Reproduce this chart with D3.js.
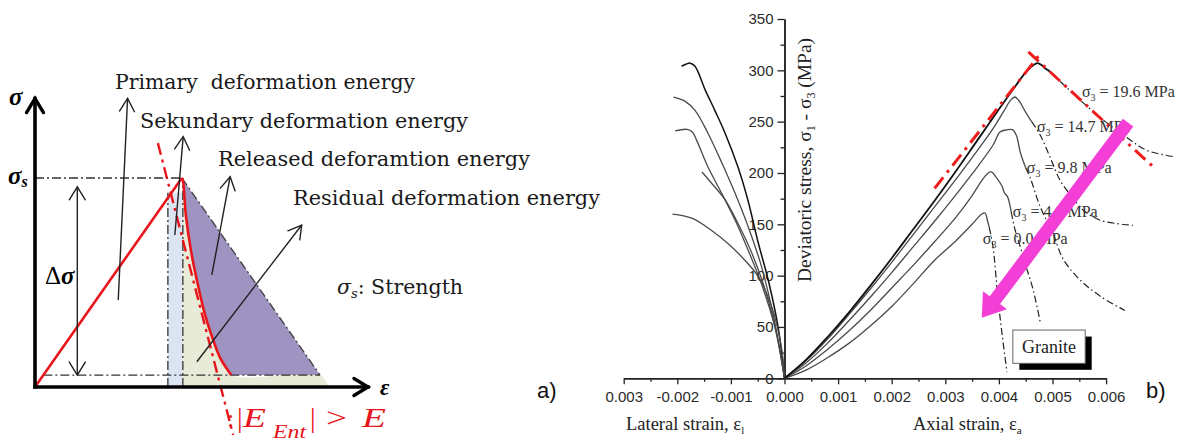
<!DOCTYPE html>
<html><head><meta charset="utf-8">
<script src="https://cdn.jsdelivr.net/npm/d3@7"></script>
<style>
html,body{margin:0;padding:0;background:#fff;}
svg{display:block;}
text{white-space:pre;}
</style></head><body>
<svg id="fig" width="1179" height="441"></svg>
<script>
// ================= Panel (b) data: strain in 1e-3, deviatoric stress in MPa =================
const xTickValues = [-3,-2,-1,0,1,2,3,4,5,6];
const xTickLabels = ["0.003","-0.002","-0.001","0.000","0.001","0.002","0.003","0.004","0.005","0.006"];
const xMinorValues = [-2.5,-1.5,-0.5,0.5,1.5,2.5,3.5,4.5,5.5];
const yTickValues = [0,50,100,150,200,250,300,350];
const yTickLabels = ["0","50","100","150","200","250","300","350"];
const yMinorValues = [25,75,125,175,225,275,325];

const confiningLabels = ["19.6","14.7","9.8","4.9","0.0"];

// axial branch, pre-peak and early post-peak (solid)
const axial196 = [[0,0],[0.4,18],[0.8,40],[1.2,64],[1.6,90],[2.0,117],[2.4,145],[2.8,173],[3.2,202],[3.6,232],[4.0,262],[4.3,284],[4.5,298],[4.64,305],[4.72,307],[4.8,305],[4.86,302],[4.95,299]];
const axial147 = [[0,0],[0.4,17],[0.8,38],[1.2,62],[1.6,87],[2.0,113],[2.4,140],[2.8,167],[3.2,194],[3.6,222],[3.9,244],[4.1,261],[4.22,271],[4.3,274],[4.38,270],[4.5,259],[4.61,250]];
const axial98  = [[0,0],[0.4,15],[0.8,34],[1.2,56],[1.6,79],[2.0,103],[2.4,128],[2.8,153],[3.2,179],[3.6,206],[3.9,228],[4.02,240],[4.15,242],[4.26,242],[4.33,236],[4.4,220],[4.5,205]];
const axial49  = [[0,0],[0.4,12],[0.8,28],[1.2,46],[1.6,66],[2.0,88],[2.4,110],[2.8,133],[3.2,157],[3.5,178],[3.7,194],[3.8,200],[3.86,201],[3.96,195],[4.06,187],[4.1,181],[4.16,177],[4.2,170],[4.23,162]];
const axial00  = [[0,0],[0.4,8],[0.8,20],[1.2,34],[1.6,51],[2.0,70],[2.4,92],[2.8,115],[3.2,134],[3.5,150],[3.68,160],[3.74,161],[3.79,153],[3.82,147]];

// axial branch, post-peak (dash-dot)
const soft196 = [[4.95,299],[5.35,279],[5.89,254],[6.4,234],[6.76,222],[7.25,216]];
const soft147 = [[4.61,250],[4.77,237],[4.95,216],[5.14,193],[5.33,179],[5.57,164],[5.89,154],[6.5,149]];
const soft98  = [[4.5,205],[4.58,196],[4.77,167],[5.01,141],[5.2,116],[5.51,96],[5.89,80],[6.35,66]];
const soft49  = [[4.23,162],[4.3,145],[4.4,128],[4.5,110],[4.64,86],[4.77,55]];
const soft00  = [[3.82,147],[3.89,128],[3.98,79],[4.05,47],[4.15,6]];

// lateral branch
const lateral196 = [[-1.92,304],[-1.84,306],[-1.76,307],[-1.67,304],[-1.48,281],[-1.30,261],[-1.11,239],[-0.87,206],[-0.68,173],[-0.50,134],[-0.30,95],[-0.12,50],[0,0]];
const lateral147 = [[-2.07,274],[-1.86,270],[-1.67,261],[-1.43,239],[-1.17,210],[-0.92,180],[-0.68,148],[-0.43,109],[-0.18,54],[0,0]];
const lateral98  = [[-2.04,241],[-1.82,242.5],[-1.72,240],[-1.64,232],[-1.43,206],[-1.17,180],[-0.92,154],[-0.68,125],[-0.43,92],[-0.18,50],[0,0]];
const lateral49  = [[-1.54,201],[-1.36,190],[-1.11,174],[-0.87,151],[-0.61,122],[-0.36,86],[-0.12,37],[0,0]];
const lateral00  = [[-2.09,160],[-1.73,156],[-1.36,144],[-1.05,131],[-0.74,115],[-0.49,99],[-0.24,70],[-0.05,28],[0,0]];

// tangent lines at the 19.6 MPa peak
const tangentRise = [[2.8,185],[4.8,318]];
const tangentFall = [[4.55,318],[6.9,205]];

// annotation anchors (data space)
const labelAnchors = [[5.55,274],[4.71,240],[4.52,200],[4.26,157],[3.70,131]];
const trendArrow = [[6.41,249],[3.68,59]];
const graniteBox = [[4.26,47],[5.61,14.6]];

// ================= Panel (a) schematic data (ε and σ in relative units, σs = 100) =================
const schemLoad = [[0,0],[44.1,100]];
const schemSoftening = [[44.4,99],[45.3,82.3],[46.8,65.6],[48.6,51.2],[51.1,34.4],[53.5,22.5],[55.6,13.9],[58.9,5.7]];
const schemRelease = [[44.1,100],[85.6,5.7]];
const schemStrengthLevel = [[0,100],[44.1,100]];
const schemResidualLevel = [[2.5,5.7],[85.6,5.7]];
const schemStripEdge = [[39.9,0],[39.9,93]];
const schemPeakEdge = [[44.4,0],[44.4,100]];
const schemBrittle = [[36.9,116.7],[59.5,-23]];
const schemAxisX = [[0,0],[100,0]];
const schemAxisY = [[0,0],[0,138]];
const arrowDelta = [[12.7,5.7],[12.7,95.8]];
const arrowPrimary = [[25.0,41.6],[27.8,138.1]];
const arrowSecondary = [[42.0,72.7],[44.5,119.8]];
const arrowReleased = [[53.1,53.6],[58.6,100.6]];
const arrowResidual = [[48.6,12.1],[80.1,77.5]];

const energyLabels = ["Primary  deformation energy","Sekundary deformation energy","Released deforamtion energy","Residual deformation energy"];

// ======================================================================
const svg = d3.select("#fig");

function chevron(g, p0, p1, L, W, color, sw) {
  const dx = p1[0]-p0[0], dy = p1[1]-p0[1], len = Math.hypot(dx,dy);
  const ux = dx/len, uy = dy/len;
  const bx = p1[0]-ux*L, by = p1[1]-uy*L;
  g.append("path")
    .attr("d", `M${bx-uy*W},${by+ux*W}L${p1[0]},${p1[1]}L${bx+uy*W},${by-ux*W}`)
    .attr("fill","none").attr("stroke",color).attr("stroke-width",sw)
    .attr("stroke-linejoin","miter").attr("stroke-linecap","round");
}

// ---------------- Panel (a) ----------------
const xA = d3.scaleLinear().domain([0,100]).range([35,368]);
const yA = d3.scaleLinear().domain([0,100]).range([387,178]);
const PA = d => [xA(d[0]), yA(d[1])];
const lineA = d3.line().x(d=>xA(d[0])).y(d=>yA(d[1]));
const smoothA = d3.line().x(d=>xA(d[0])).y(d=>yA(d[1])).curve(d3.curveCatmullRom.alpha(0.5));
const gA = svg.append("g");

// foot of the release line on the strain axis
const relSlope = (schemRelease[1][0]-schemRelease[0][0])/(schemRelease[1][1]-schemRelease[0][1]);
const relFoot = [schemRelease[1][0] - relSlope*schemRelease[1][1], 0];

// light blue strip (secondary energy)
gA.append("path")
  .attr("d", lineA([[schemStripEdge[0][0],0],[schemStripEdge[1][0],schemStripEdge[1][1]],[schemPeakEdge[1][0],schemStripEdge[1][1]],[schemPeakEdge[0][0],0]]) + "Z")
  .attr("fill","#dbe4f1");

// residual energy (beige)
const beige = [[schemPeakEdge[0][0],0],[schemPeakEdge[0][0],schemSoftening[0][1]]]
  .concat(schemSoftening).concat([schemResidualLevel[1], relFoot]);
gA.append("path").attr("d", smoothA(beige) + "Z").attr("fill","#e8ebd7");

// released energy (purple)
gA.append("path").attr("d", lineA([schemRelease[0], schemRelease[1], schemSoftening[schemSoftening.length-1]]) +
  smoothA(schemSoftening.slice().reverse()).replace(/^M/,"L") + "Z")
  .attr("fill","#9f93c2");

// dash-dot guide lines
const ddA = "9,3,2,3";
[schemStrengthLevel, schemResidualLevel, schemStripEdge, schemPeakEdge].forEach(seg => {
  gA.append("path").attr("d", lineA(seg)).attr("fill","none")
    .attr("stroke","#333").attr("stroke-width",1.3).attr("stroke-dasharray",ddA);
});
gA.append("path").attr("d", lineA(schemRelease)).attr("fill","none")
  .attr("stroke","#444").attr("stroke-width",1.4).attr("stroke-dasharray",ddA);

// red: loading line, softening curve, brittle criterion line
gA.append("path").attr("d", lineA(schemLoad)).attr("fill","none")
  .attr("stroke","#e8161c").attr("stroke-width",2.6);
gA.append("path").attr("d", smoothA([schemLoad[1]].concat(schemSoftening))).attr("fill","none")
  .attr("stroke","#e8161c").attr("stroke-width",2.6);
gA.append("path").attr("d", lineA(schemBrittle)).attr("fill","none")
  .attr("stroke","#e8161c").attr("stroke-width",2.4).attr("stroke-dasharray","12,5,3,5");

// thin annotation arrows
[arrowPrimary, arrowSecondary, arrowReleased, arrowResidual].forEach(a => {
  const p0 = PA(a[0]), p1 = PA(a[1]);
  gA.append("line").attr("x1",p0[0]).attr("y1",p0[1]).attr("x2",p1[0]).attr("y2",p1[1])
    .attr("stroke","#222").attr("stroke-width",1.4);
  chevron(gA, p0, p1, 13, 7.5, "#222", 1.4);
});
{
  const p0 = PA(arrowDelta[0]), p1 = PA(arrowDelta[1]);
  gA.append("line").attr("x1",p0[0]).attr("y1",p0[1]).attr("x2",p1[0]).attr("y2",p1[1])
    .attr("stroke","#222").attr("stroke-width",1.4);
  chevron(gA, p0, p1, 13, 8, "#222", 1.4);
  chevron(gA, p1, p0, 13, 8, "#222", 1.4);
}

// axes with open arrowheads
[schemAxisX, schemAxisY].forEach(a => {
  const p0 = PA(a[0]), p1 = PA(a[1]);
  gA.append("line").attr("x1",p0[0]).attr("y1",p0[1]).attr("x2",p1[0]).attr("y2",p1[1])
    .attr("stroke","#000").attr("stroke-width",3.6).attr("stroke-linecap","square");
  chevron(gA, p0, p1, 14, 8.5, "#000", 3.4);
});

// labels
const serifA = "'DejaVu Serif', 'Liberation Serif', serif";
const tA = gA.append("g").attr("font-family", serifA).attr("fill","#1a1a1a");
const energyPos = [[115,89,300],[140,128,328],[218,166,312],[293,205,307]];
energyLabels.forEach((s,i) => {
  tA.append("text").attr("x",energyPos[i][0]).attr("y",energyPos[i][1])
    .attr("font-size",20.5).attr("textLength",energyPos[i][2]).attr("lengthAdjust","spacingAndGlyphs").text(s);
});
{
  const t = tA.append("text").attr("x",337).attr("y",294).attr("font-size",20.5);
  t.append("tspan").attr("font-style","italic").text("σ");
  t.append("tspan").attr("font-style","italic").attr("font-size",13).attr("dy",4).text("s");
  t.append("tspan").attr("dy",-4).text(": Strength");
}
const symFont = "'Liberation Serif', serif";
svg.append("text").attr("x",9).attr("y",105).attr("font-family",symFont).attr("font-size",25)
  .attr("font-weight","bold").attr("font-style","italic").text("σ");
{
  const t = svg.append("text").attr("x",8).attr("y",184).attr("font-family",symFont).attr("font-size",25)
    .attr("font-weight","bold").attr("font-style","italic");
  t.append("tspan").text("σ");
  t.append("tspan").attr("font-size",16).attr("dy",3).text("s");
}
svg.append("text").attr("x",380).attr("y",395).attr("font-family",symFont).attr("font-size",23)
  .attr("font-weight","bold").attr("font-style","italic").text("ε");
{
  const t = svg.append("text").attr("x",45).attr("y",284).attr("font-family",symFont).attr("font-size",25);
  t.append("tspan").text("Δ");
  t.append("tspan").attr("font-weight","bold").attr("font-style","italic").text("σ");
}
// brittleness criterion, written in red beside the dash-dot line
{
  const redFont = "'Liberation Serif', serif";
  const gR = svg.append("g").attr("font-family",redFont).attr("fill","#e8161c");
  const piece = (x, y, size, str, italic, width) => {
    const t = gR.append("text").attr("x",x).attr("y",y).attr("font-size",size).text(str);
    if (italic) t.attr("font-style","italic");
    if (width) t.attr("textLength",width).attr("lengthAdjust","spacingAndGlyphs");
  };
  piece(227, 427, 26, ":", false);
  piece(237, 427, 28, "|", false);
  piece(243, 427, 27, "E", true, 23);
  piece(273, 438, 18, "Ent", true, 33);
  piece(310, 427, 28, "|", false);
  piece(326, 427, 28, ">", false, 21);
  piece(362, 427, 27, "E", true, 24);
}
svg.append("text").attr("x",537).attr("y",398).attr("font-family","'Liberation Sans', Arial, sans-serif")
  .attr("font-size",22).attr("fill","#111").text("a)");

// ---------------- Panel (b) ----------------
const xB = d3.scaleLinear().domain([-3,6]).range([623.7,1106.1]);
const yB = d3.scaleLinear().domain([0,350]).range([378.3,19]);
const PB = d => [xB(d[0]), yB(d[1])];
const smoothB = d3.line().x(d=>xB(d[0])).y(d=>yB(d[1])).curve(d3.curveCatmullRom.alpha(0.5));
const straightB = d3.line().x(d=>xB(d[0])).y(d=>yB(d[1]));
const gB = svg.append("g");

const sansB = "'Liberation Sans', Arial, sans-serif";
const serifB = "'Liberation Serif', 'Times New Roman', serif";

// axes
const xAxis = d3.axisBottom(xB).tickValues(xTickValues).tickSize(6).tickSizeOuter(0).tickPadding(7)
  .tickFormat((d,i) => xTickLabels[i]);
const xMinor = d3.axisBottom(xB).tickValues(xMinorValues).tickSize(3.5).tickSizeOuter(0).tickFormat("");
const yAxis = d3.axisLeft(yB).tickValues(yTickValues).tickSize(7).tickSizeOuter(0).tickPadding(4)
  .tickFormat((d,i) => yTickLabels[i]);
const yMinor = d3.axisLeft(yB).tickValues(yMinorValues).tickSize(4).tickSizeOuter(0).tickFormat("");

function styleAxis(sel) {
  sel.select(".domain").attr("stroke","#222").attr("stroke-width",1.5);
  sel.selectAll(".tick line").attr("stroke","#222").attr("stroke-width",1.3);
  sel.selectAll(".tick text").attr("font-family",sansB).attr("font-size",15).attr("fill","#2a2a2a");
}
gB.append("g").attr("transform",`translate(0,${yB(0)})`).call(xMinor).call(styleAxis);
gB.append("g").attr("transform",`translate(0,${yB(0)})`).call(xAxis).call(styleAxis);
gB.append("g").attr("transform",`translate(${xB(0)},0)`).call(yMinor).call(styleAxis);
gB.append("g").attr("transform",`translate(${xB(0)},0)`).call(yAxis).call(styleAxis);

// curves
const solidSets = [axial196, axial147, axial98, axial49, axial00];
const softSets = [soft196, soft147, soft98, soft49, soft00];
const lateralSets = [lateral196, lateral147, lateral98, lateral49, lateral00];
const curveColor = ["#111","#4a4a4a","#4a4a4a","#4a4a4a","#4a4a4a"];
const curveWidth = [1.8,1.3,1.3,1.3,1.3];

lateralSets.forEach((s,i) => {
  gB.append("path").attr("d", smoothB(s)).attr("fill","none")
    .attr("stroke",curveColor[i]).attr("stroke-width",i === 0 ? 1.5 : curveWidth[i]);
});
solidSets.slice().reverse().forEach((s,j) => {
  const i = solidSets.length-1-j;
  gB.append("path").attr("d", smoothB(s)).attr("fill","none")
    .attr("stroke",curveColor[i]).attr("stroke-width",curveWidth[i]).attr("stroke-linejoin","round");
});
softSets.forEach((s,i) => {
  gB.append("path").attr("d", smoothB(s)).attr("fill","none")
    .attr("stroke","#222").attr("stroke-width",1.2).attr("stroke-dasharray","7,3,1.5,3");
});

// red tangent lines at the peak
[tangentRise, tangentFall].forEach(s => {
  gB.append("path").attr("d", straightB(s)).attr("fill","none")
    .attr("stroke","#ee1c1c").attr("stroke-width",3).attr("stroke-dasharray","14,6,3,6");
});

// confining pressure labels
confiningLabels.forEach((v,i) => {
  const p = PB(labelAnchors[i]);
  const t = gB.append("text").attr("x",p[0]).attr("y",p[1]).attr("font-family",serifB)
    .attr("font-size",16).attr("fill","#333");
  t.append("tspan").text("σ");
  t.append("tspan").attr("font-size",10).attr("dy",4).text("3");
  t.append("tspan").attr("dy",-4).text(" = " + v + " MPa");
});

// Granite box with drop shadow
{
  const a = PB(graniteBox[0]), b = PB(graniteBox[1]);
  const x0 = a[0], y0 = a[1], w = b[0]-a[0], h = b[1]-a[1];
  gB.append("rect").attr("x",x0+6.5).attr("y",y0+6.5).attr("width",w).attr("height",h).attr("fill","#000");
  gB.append("rect").attr("x",x0).attr("y",y0).attr("width",w).attr("height",h)
    .attr("fill","#fff").attr("stroke","#666").attr("stroke-width",1);
  gB.append("text").attr("x",x0+w/2).attr("y",y0+h/2+6.5).attr("text-anchor","middle")
    .attr("font-family",serifB).attr("font-size",18).attr("fill","#222").text("Granite");
}

// magenta trend arrow
{
  const p0 = PB(trendArrow[0]), p1 = PB(trendArrow[1]);
  const dx = p1[0]-p0[0], dy = p1[1]-p0[1], len = Math.hypot(dx,dy);
  const ux = dx/len, uy = dy/len, nx = -uy, ny = ux;
  const hw = 6.5, headL = 22, headW = 15;
  const bx = p1[0]-ux*headL, by = p1[1]-uy*headL;
  const pts = [
    [p0[0]+nx*hw, p0[1]+ny*hw], [bx+nx*hw, by+ny*hw], [bx+nx*headW, by+ny*headW],
    [p1[0], p1[1]],
    [bx-nx*headW, by-ny*headW], [bx-nx*hw, by-ny*hw], [p0[0]-nx*hw, p0[1]-ny*hw]
  ];
  gB.append("path").attr("d", d3.line()(pts)+"Z").attr("fill","#f43fd6");
}

// axis titles
{
  const t = gB.append("text").attr("transform",`translate(811,160) rotate(-90)`).attr("text-anchor","middle")
    .attr("font-family",serifB).attr("font-size",19.5).attr("fill","#222");
  t.append("tspan").text("Deviatoric stress, σ");
  t.append("tspan").attr("font-size",12).attr("dy",4).text("1");
  t.append("tspan").attr("dy",-4).text(" - σ");
  t.append("tspan").attr("font-size",12).attr("dy",4).text("3");
  t.append("tspan").attr("dy",-4).text(" (MPa)");
}
{
  const t = gB.append("text").attr("x",626).attr("y",430).attr("font-family",serifB)
    .attr("font-size",18.5).attr("fill","#222");
  t.append("tspan").text("Lateral strain, ε");
  t.append("tspan").attr("font-size",11).attr("dy",4).text("l");
}
{
  const t = gB.append("text").attr("x",913).attr("y",430).attr("font-family",serifB)
    .attr("font-size",18.5).attr("fill","#222");
  t.append("tspan").text("Axial strain, ε");
  t.append("tspan").attr("font-size",11).attr("dy",4).text("a");
}
svg.append("text").attr("x",1146).attr("y",398).attr("font-family",sansB)
  .attr("font-size",22).attr("fill","#111").text("b)");
</script>
</body></html>
